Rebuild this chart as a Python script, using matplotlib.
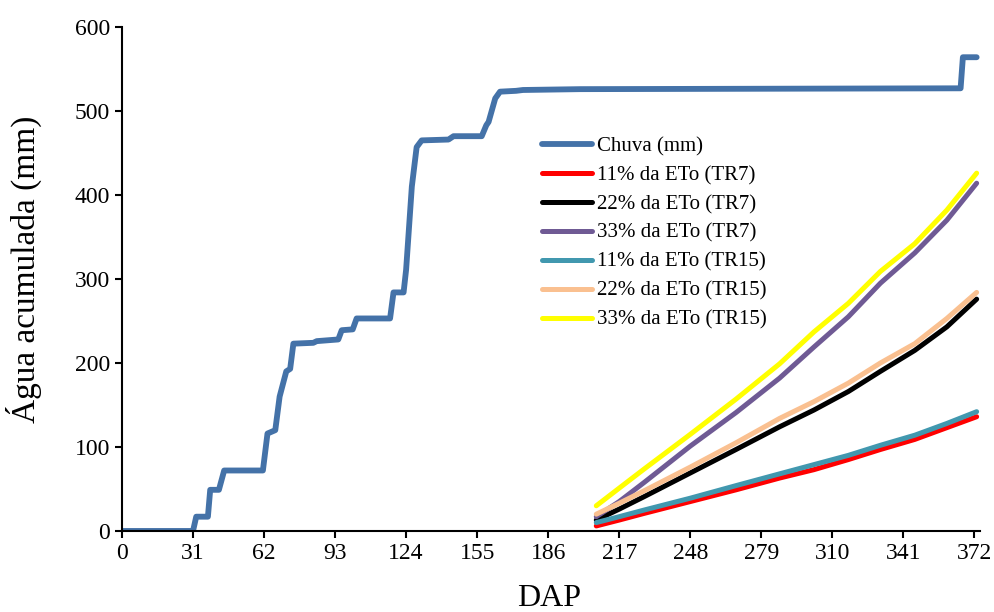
import numpy as np
import matplotlib
matplotlib.use('Agg')
import matplotlib.pyplot as plt

plt.rcParams['font.family'] = ['Liberation Serif', 'DejaVu Serif']

# Chuva acumulada (mm) vs DAP
rain_dap = [0, 31, 32.4, 37.5, 38.5, 42.3, 44.6, 61.5, 63.5, 66.9, 68.8, 71.7, 73.4,
            74.8, 83.5, 85, 94.4, 95.9, 100.7, 102.4, 117, 118.5, 122.9, 124, 126.5,
            128.6, 130.8, 142.5, 144.7, 157, 159, 160, 162.9, 165, 172, 175, 200,
            366, 367, 373]
rain_mm = [0, 0, 17, 17, 49, 49, 72, 72, 116, 120, 160, 190, 193,
           223, 224, 226, 228, 239, 240, 253, 253, 284, 284, 311, 410,
           457, 465, 466, 470, 470, 483, 487, 515, 523, 524, 525, 526,
           527, 564, 564]

# Irrigacao acumulada (mm)
irr_dap = [207, 217, 228, 248, 268, 287, 302, 317, 331, 346, 360, 373]
tr7_11 = [6, 13, 21, 35, 49, 63, 73, 85, 97, 109, 123, 136]
tr7_22 = [13, 26, 41, 69, 97, 124, 144, 166, 190, 215, 243, 276]
tr7_33 = [17, 35, 58, 101, 141, 182, 219, 255, 295, 331, 370, 414]
tr15_11 = [10, 17, 25, 39, 54, 68, 79, 90, 102, 114, 128, 142]
tr15_22 = [20, 33, 48, 76, 105, 134, 154, 176, 200, 223, 253, 284]
tr15_33 = [30, 51, 74, 115, 157, 199, 237, 271, 309, 342, 382, 426]

series = [
    ('11% da ETo (TR7)', tr7_11, '#FF0000'),
    ('22% da ETo (TR7)', tr7_22, '#000000'),
    ('33% da ETo (TR7)', tr7_33, '#6F5A94'),
    ('11% da ETo (TR15)', tr15_11, '#4198AF'),
    ('22% da ETo (TR15)', tr15_22, '#FAC090'),
    ('33% da ETo (TR15)', tr15_33, '#FFFF00'),
]

fig = plt.figure(figsize=(9.95, 6.12), dpi=100)
ax = fig.add_axes([0.1226, 0.1324, 0.8624, 0.8235])

ax.plot(rain_dap, rain_mm, color='#4472A8', lw=4.2, label='Chuva (mm)',
        solid_capstyle='round', solid_joinstyle='round')
for name, vals, col in series:
    ax.plot(irr_dap, vals, color=col, lw=3.6, label=name,
            solid_capstyle='round', solid_joinstyle='round')

ax.set_xlim(0, 374.5)
ax.set_ylim(0, 600)
ax.set_xticks(np.arange(0, 373, 31))
ax.set_yticks(np.arange(0, 601, 100))
for s in ['top', 'right']:
    ax.spines[s].set_visible(False)
for s in ['left', 'bottom']:
    ax.spines[s].set_linewidth(1.5)
ax.tick_params(direction='out', length=5, width=1.5, labelsize=17)
ax.set_xlabel('DAP', fontsize=23)
ax.set_ylabel('Água acumulada (mm)', fontsize=24)
ax.xaxis.set_label_coords(0.498, -0.105)
ax.yaxis.set_label_coords(-0.093, 0.52)

ax.legend(loc='upper left', bbox_to_anchor=(0.5347, 0.794), bbox_transform=fig.transFigure,
          frameon=False, fontsize=15, handlelength=2.4, handletextpad=0.2,
          borderpad=0, labelspacing=0.45)

fig.savefig('out.png', dpi=100)
